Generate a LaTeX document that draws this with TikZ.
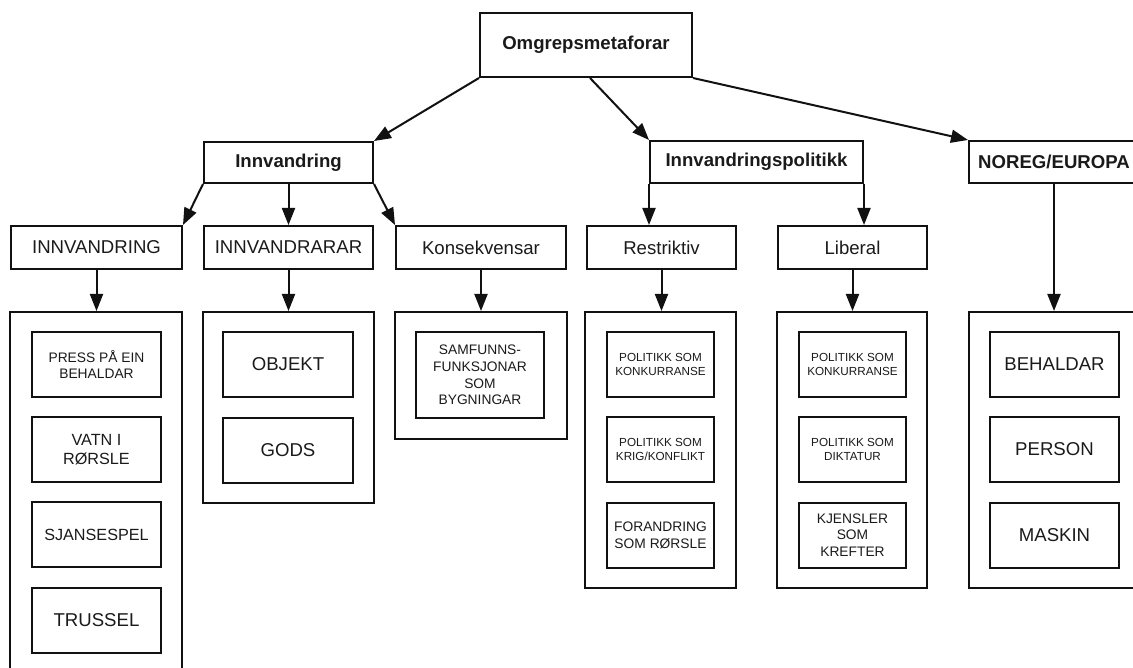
\documentclass[tikz,border=0pt]{standalone}
\usepackage{fontspec}
\setmainfont{Liberation Sans}
\usepackage{xcolor}
\usepackage{tikz}
\usetikzlibrary{arrows.meta}
\definecolor{ink}{HTML}{1A1A1A}
\definecolor{edge}{HTML}{111111}
\tikzset{
  metaBox/.style={draw=edge, line width=2pt, inner sep=0pt, align=center, text=ink},
  headBox/.style={metaBox, font=\bfseries\fontsize{18.6}{22}\selectfont},
  subBox/.style={metaBox, minimum height=43pt, font=\fontsize{18.6}{22}\selectfont},
  groupBox/.style={draw=edge, line width=2pt, inner sep=0pt},
  itemWide/.style={metaBox, minimum width=129pt, minimum height=65pt},
  itemNarrow/.style={metaBox, minimum width=107pt, minimum height=65pt},
  bigText/.style={font=\fontsize{18.6}{22}\selectfont},
  midText/.style={font=\fontsize{16.2}{18.3}\selectfont},
  smallText/.style={font=\fontsize{13.8}{16.8}\selectfont},
  tinyText/.style={font=\fontsize{11.7}{14}\selectfont},
  metaArrow/.style={-{Triangle[length=17pt,width=13pt]}, line width=2pt, draw=edge}
}

\begin{document}
\begin{tikzpicture}[x=1pt,y=-1pt]
  \useasboundingbox (0,0) rectangle (1133,668);
  \clip (0,0) rectangle (1133,668);

  % top level
  \node[headBox, minimum width=212pt, minimum height=64pt] (top) at (586,45) {Omgrepsmetaforar};

  \node[headBox, minimum width=169pt, minimum height=41pt] (inv) at (288.5,162.5) {Innvandring};
  \node[headBox, minimum width=213pt, minimum height=42pt] (pol) at (756.5,162) {Innvandringspolitikk};
  \node[headBox, minimum width=170pt, minimum height=42pt] (nor) at (1054,162) {NOREG/EUROPA};

  % second level
  \node[subBox, minimum width=171pt] (invA) at (96.5,247.5) {INNVANDRING};
  \node[subBox, minimum width=169pt] (invB) at (288.5,247.5) {INNVANDRARAR};
  \node[subBox, minimum width=170pt] (invC) at (481,247.5) {Konsekvensar};
  \node[subBox, minimum width=149pt] (polA) at (661.5,247.5) {Restriktiv};
  \node[subBox, minimum width=149pt] (polB) at (852.5,247.5) {Liberal};

  % groups
  \node[groupBox, minimum width=172pt, minimum height=378pt] (grpA) at (96,501) {};
  \node[groupBox, minimum width=171pt, minimum height=191pt] (grpB) at (288.5,407.5) {};
  \node[groupBox, minimum width=172pt, minimum height=127pt] (grpC) at (481,375.5) {};
  \node[groupBox, minimum width=151pt, minimum height=276pt] (grpD) at (660.5,450) {};
  \node[groupBox, minimum width=150pt, minimum height=276pt] (grpE) at (852,450) {};
  \node[groupBox, minimum width=170pt, minimum height=276pt] (grpF) at (1054,450) {};

  % items
  \node[itemWide, smallText] (a1) at (96.5,364.5) {PRESS PÅ EIN\\BEHALDAR};
  \node[itemWide, midText] (a2) at (96.5,449.5) {VATN I\\RØRSLE};
  \node[itemWide, midText] (a3) at (96.5,534.5) {SJANSESPEL};
  \node[itemWide, bigText] (a4) at (96.5,620) {TRUSSEL};

  \node[itemWide, minimum width=130pt, bigText] (b1) at (288,364.5) {OBJEKT};
  \node[itemWide, minimum width=130pt, bigText] (b2) at (288,450) {GODS};

  \node[metaBox, minimum width=128pt, minimum height=86pt, smallText] (c1) at (480,375) {SAMFUNNS-\\FUNKSJONAR\\SOM\\BYGNINGAR};

  \node[itemNarrow, tinyText] (d1) at (660.5,364.5) {POLITIKK SOM\\KONKURRANSE};
  \node[itemNarrow, tinyText] (d2) at (660.5,449.5) {POLITIKK SOM\\KRIG/KONFLIKT};
  \node[itemNarrow, smallText] (d3) at (660.5,535) {FORANDRING\\SOM RØRSLE};

  \node[itemNarrow, tinyText] (e1) at (852.5,364.5) {POLITIKK SOM\\KONKURRANSE};
  \node[itemNarrow, tinyText] (e2) at (852.5,449.5) {POLITIKK SOM\\DIKTATUR};
  \node[itemNarrow, smallText] (e3) at (852.5,535) {KJENSLER\\SOM\\KREFTER};

  \node[itemWide, bigText] (f1) at (1054.5,364.5) {BEHALDAR};
  \node[itemWide, bigText] (f2) at (1054.5,449.5) {PERSON};
  \node[itemWide, bigText] (f3) at (1054.5,535) {MASKIN};

  % arrows
  \draw[metaArrow] (top.south west) -- (inv.north east);
  \draw[metaArrow] ([xshift=4pt]top.south) -- (pol.north west);
  \draw[metaArrow] (top.south east) -- (nor.north west);

  \draw[metaArrow] (inv.south west) -- (invA.north east);
  \draw[metaArrow] (inv.south) -- (invB.north);
  \draw[metaArrow] (inv.south east) -- (invC.north west);

  \draw[metaArrow] (pol.south west) -- (pol.south west |- polA.north);
  \draw[metaArrow] (pol.south east) -- (pol.south east |- polB.north);

  \draw[metaArrow] (invA.south) -- (invA.south |- grpA.north);
  \draw[metaArrow] (invB.south) -- (invB.south |- grpB.north);
  \draw[metaArrow] (invC.south) -- (invC.south |- grpC.north);
  \draw[metaArrow] (polA.south) -- (polA.south |- grpD.north);
  \draw[metaArrow] (polB.south) -- (polB.south |- grpE.north);
  \draw[metaArrow] (nor.south) -- (grpF.north);
\end{tikzpicture}
\end{document}
